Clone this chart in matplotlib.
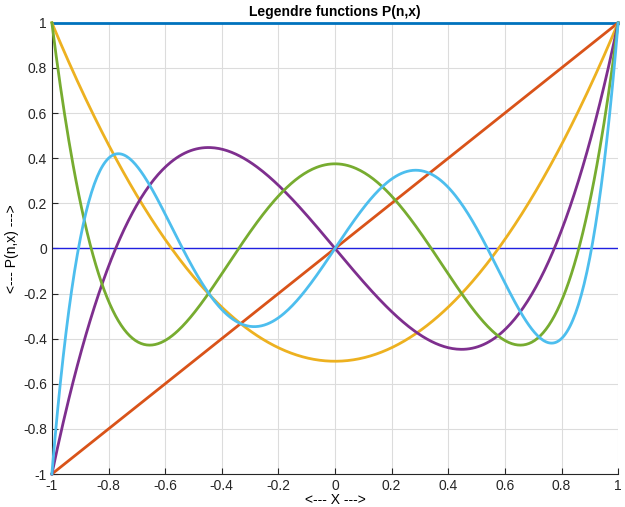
import numpy as np
import matplotlib
matplotlib.use("Agg")
import matplotlib.pyplot as plt
from numpy.polynomial import legendre as L

plt.rcParams['font.family'] = ['Liberation Sans', 'DejaVu Sans']

# Legendre orders shown in the chart and their line colours
orders = [0, 1, 2, 3, 4, 5]
colors = ['#0072BD', '#D95319', '#EDB120', '#7E2F8E', '#77AC30', '#4DBEEE']
x_ticks = [-1, -0.8, -0.6, -0.4, -0.2, 0, 0.2, 0.4, 0.6, 0.8, 1]
y_ticks = [-1, -0.8, -0.6, -0.4, -0.2, 0, 0.2, 0.4, 0.6, 0.8, 1]

x = np.linspace(-1, 1, 401)

fig = plt.figure(figsize=(6.25, 5.07), dpi=100)
ax = fig.add_axes([0.083, 0.065, 0.906, 0.89])

for n, c in zip(orders, colors):
    coef = np.zeros(n + 1)
    coef[n] = 1
    ax.plot(x, L.legval(x, coef), color=c, lw=2, clip_on=False, zorder=3)

ax.plot([-1, 1], [0, 0], color='#2020E0', lw=1, zorder=2)

ax.set_xlim(-1, 1)
ax.set_ylim(-1, 1)
ax.set_xticks(x_ticks)
ax.set_yticks(y_ticks)
ax.set_xticklabels([f'{v:g}' for v in x_ticks])
ax.set_yticklabels([f'{v:g}' for v in y_ticks])
ax.grid(True, color='#dcdcdc', lw=0.8)
ax.set_axisbelow(True)
for s in ['top', 'right']:
    ax.spines[s].set_visible(False)
for s in ['left', 'bottom']:
    ax.spines[s].set_color('#262626')
ax.tick_params(direction='in', length=4, labelsize=10, colors='#262626')
ax.set_title('Legendre functions P(n,x)', fontsize=10, fontweight='bold', pad=5)
ax.set_xlabel('<--- X --->', fontsize=10, labelpad=0)
ax.set_ylabel('<--- P(n,x) --->', fontsize=10, labelpad=3)

fig.savefig('out.png', dpi=100)
